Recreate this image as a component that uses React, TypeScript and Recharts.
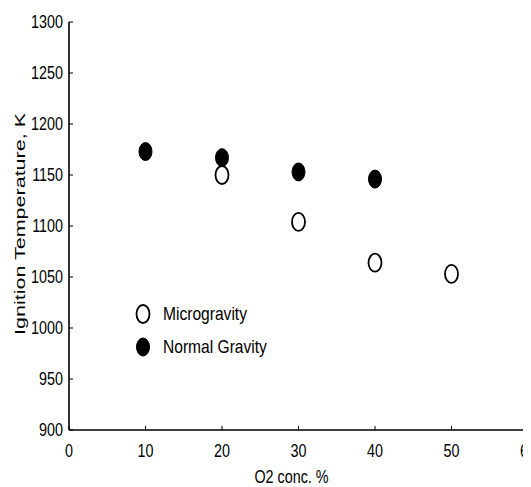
import React from "react";
import { ScatterChart, Scatter, XAxis, YAxis, Legend } from "recharts";

const xTicks = [0, 10, 20, 30, 40, 50, 60];
const yTicks = [900, 950, 1000, 1050, 1100, 1150, 1200, 1250, 1300];

const microX = [20, 30, 40, 50];
const microY = [1150, 1104, 1064, 1053];
const normalX = [10, 20, 30, 40];
const normalY = [1173, 1167, 1153, 1146];

const seriesNames = ["Microgravity", "Normal Gravity"];
const xTitle = "O2 conc. %";
const yTitle = "Ignition Temperature, K";

const microData = microX.map((x, i) => ({ x, y: microY[i] }));
const normalData = normalX.map((x, i) => ({ x, y: normalY[i] }));

const FONT = "'Liberation Sans', Arial, sans-serif";
const NARROW_SCALE = 0.82;
const TICK_FONT = 17.5;
const RX = 6.5;
const RY = 9;

const OpenMarker = (props: any) => (
  <ellipse cx={props.cx} cy={props.cy} rx={RX} ry={RY} fill="#fff" stroke="#000" strokeWidth={1.8} />
);
const FilledMarker = (props: any) => (
  <ellipse cx={props.cx} cy={props.cy} rx={RX} ry={RY} fill="#000" stroke="#000" strokeWidth={1} />
);

const NarrowTickY = (props: any) => {
  const { x, y, payload } = props;
  return (
    <g transform={`translate(${x},${y})`}>
      <text transform={`scale(${NARROW_SCALE},1)`} x={0} y={0} dy="0.36em" textAnchor="end" fontFamily={FONT} fontSize={TICK_FONT} fill="#000">
        {payload.value}
      </text>
    </g>
  );
};

const NarrowTickX = (props: any) => {
  const { x, y, payload } = props;
  return (
    <g transform={`translate(${x},${y})`}>
      <text transform={`scale(${NARROW_SCALE},1)`} x={0} y={0} dy="0.71em" textAnchor="middle" fontFamily={FONT} fontSize={TICK_FONT} fill="#000">
        {payload.value}
      </text>
    </g>
  );
};

const LegendContent = () => (
  <div style={{ display: "flex", flexDirection: "column" }}>
    {seriesNames.map((name, i) => (
      <div key={name} style={{ display: "flex", alignItems: "center", height: 33 }}>
        <svg width={20} height={22}>
          <ellipse cx={10} cy={11} rx={RX} ry={RY} fill={i === 0 ? "#fff" : "#000"} stroke="#000" strokeWidth={i === 0 ? 1.8 : 1} />
        </svg>
        <span
          style={{
            marginLeft: 10,
            fontFamily: FONT,
            fontSize: 19,
            color: "#000",
            lineHeight: 1,
            display: "inline-block",
            whiteSpace: "nowrap",
            transform: `scaleX(${NARROW_SCALE})`,
            transformOrigin: "left center",
          }}
        >
          {name}
        </span>
      </div>
    ))}
  </div>
);

const YTitle = (props: any) => {
  const vb = props.viewBox || {};
  const x = vb.x + 17;
  const y = vb.y + vb.height / 2 - 2;
  return (
    <text
      x={x}
      y={y}
      transform={`rotate(-90, ${x}, ${y})`}
      textAnchor="middle"
      fontFamily={FONT}
      fontSize={15}
      fill="#000"
      textLength={222}
      lengthAdjust="spacingAndGlyphs"
    >
      {yTitle}
    </text>
  );
};

const XTitle = (props: any) => {
  const vb = props.viewBox || {};
  const cx = vb.x + vb.width / 2 - 7;
  const by = vb.y + 53;
  return (
    <g transform={`translate(${cx},${by})`}>
      <text transform={`scale(${NARROW_SCALE},1)`} x={0} y={0} textAnchor="middle" fontFamily={FONT} fontSize={TICK_FONT} fill="#000">
        {xTitle}
      </text>
    </g>
  );
};

const axisLine = { stroke: "#000", strokeWidth: 1.6 };

export default function App() {
  return (
    <ScatterChart width={523} height={479} margin={{ top: 14, right: 3, bottom: 0, left: 0 }}>
      <XAxis
        xAxisId={0}
        type="number"
        dataKey="x"
        domain={[0, 60]}
        ticks={xTicks}
        interval={0}
        tickSize={-4}
        tickMargin={19}
        height={57}
        axisLine={axisLine}
        tickLine={{ stroke: "#000" }}
        tick={NarrowTickX}
        label={{ content: XTitle }}
      />
      <XAxis
        xAxisId="top"
        orientation="top"
        type="number"
        dataKey="x"
        domain={[0, 60]}
        ticks={xTicks}
        interval={0}
        tickSize={-4}
        height={0}
        tick={false}
        axisLine={axisLine}
        tickLine={{ stroke: "#000" }}
      />
      <YAxis
        yAxisId={0}
        type="number"
        dataKey="y"
        domain={[900, 1300]}
        ticks={yTicks}
        interval={0}
        tickSize={-4}
        tickMargin={10}
        width={61}
        axisLine={axisLine}
        tickLine={{ stroke: "#000" }}
        tick={NarrowTickY}
        label={{ content: YTitle }}
      />
      <YAxis
        yAxisId="right"
        orientation="right"
        type="number"
        dataKey="y"
        domain={[900, 1300]}
        ticks={yTicks}
        interval={0}
        tickSize={-4}
        width={0}
        tick={false}
        axisLine={axisLine}
        tickLine={{ stroke: "#000" }}
      />
      <Legend
        layout="vertical"
        align="center"
        verticalAlign="middle"
        content={LegendContent}
        wrapperStyle={{ left: 125, top: 289, width: 200, height: 66 }}
      />
      <Scatter name={seriesNames[0]} data={microData} xAxisId={0} yAxisId={0} shape={OpenMarker} isAnimationActive={false} />
      <Scatter name={seriesNames[1]} data={normalData} xAxisId={0} yAxisId={0} shape={FilledMarker} isAnimationActive={false} />
    </ScatterChart>
  );
}
